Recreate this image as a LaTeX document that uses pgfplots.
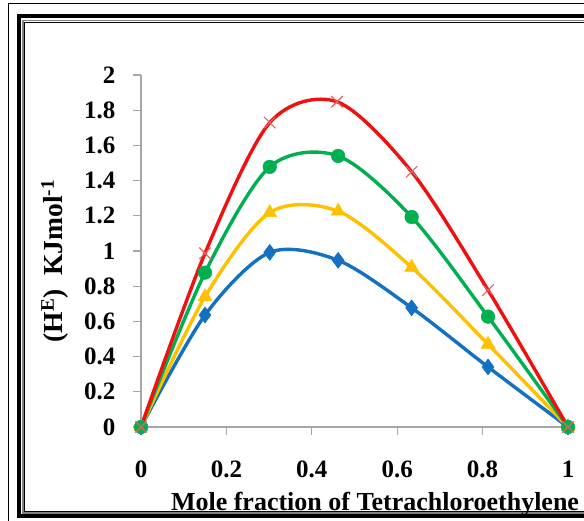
\documentclass[border=0pt]{standalone}
\usepackage{pgfplots}
\pgfplotsset{compat=1.18}
\usepackage{fontspec}
\setmainfont{Liberation Serif}
\definecolor{cblue}{HTML}{1470C0}
\definecolor{cyellow}{HTML}{FFC000}
\definecolor{cgreen}{HTML}{00B050}
\definecolor{cred}{HTML}{F01010}
\definecolor{cxred}{HTML}{E86060}
\definecolor{axgray}{HTML}{A6A6A6}
\begin{document}
\begin{tikzpicture}[x=1pt,y=1pt]
\useasboundingbox (0,0) rectangle (584,521);
\fill[white] (0,0) rectangle (584,521);
% outer frame
\draw[black, line width=1.5pt] (584,517.7) -- (8.5,517.7) -- (8.5,0);
% inner double frame
\draw[black, line width=4pt] (584,505) -- (19,505) -- (19,4.5) -- (584,4.5);
\draw[gray, line width=1.2pt] (584,500.5) -- (23,500.5) -- (23,8) -- (584,8);
\draw[black, line width=0.8pt] (584,498.3) -- (24.8,498.3) -- (24.8,9.5) -- (584,9.5);
\begin{axis}[
  at={(141pt,94pt)}, anchor=south west,
  scale only axis, width=427pt, height=352pt,
  xmin=0, xmax=1, ymin=0, ymax=2,
  axis x line*=bottom, axis y line*=left,
  axis line style={axgray, line width=1.2pt},
  tick align=outside, major tick length=8pt,
  tick style={axgray, line width=1.2pt},
  xtick={0,0.2,0.4,0.6,0.8,1},
  ytick={0,0.2,0.4,0.6,0.8,1,1.2,1.4,1.6,1.8,2},
  xticklabels={0,0.2,0.4,0.6,0.8,1},
  yticklabels={0,0.2,0.4,0.6,0.8,1,1.2,1.4,1.6,1.8,2},
  ticklabel style={font=\bfseries\fontsize{25}{25}\selectfont},
  /pgf/number format/assume math mode=true,
  yticklabel style={anchor=east, xshift=-14pt},
  xticklabel style={anchor=base, yshift=-43pt},
  xlabel={Mole fraction of Tetrachloroethylene},
  xlabel style={font=\bfseries\fontsize{26}{26}\selectfont, at={(axis description cs:0.548,0)}, anchor=base, yshift=-84pt},
  ylabel={(H\textsuperscript{E})\ \ KJmol\textsuperscript{-1}},
  ylabel style={font=\bfseries\fontsize{27.5}{27.5}\selectfont, at={(axis description cs:-0.2014,0.4716)}, anchor=center},
  clip=false,
]
\addplot[cblue, line width=3.4pt, smooth, mark=diamond*, mark size=8pt, mark options={fill=cblue, line width=0.5pt}]
coordinates {(0,0) (0.1499,0.636) (0.3015,0.992) (0.4617,0.947) (0.6339,0.677) (0.8127,0.341) (1,0)};
\addplot[cyellow, line width=3.4pt, smooth, mark=triangle*, mark size=8pt, mark options={fill=cyellow, line width=0.5pt}]
coordinates {(0,0) (0.1499,0.74) (0.3015,1.218) (0.4617,1.226) (0.6339,0.907) (0.8127,0.47) (1,0)};
\addplot[cgreen, line width=3.4pt, smooth, mark=*, mark size=6.8pt, mark options={fill=cgreen, line width=0.5pt}]
coordinates {(0,0) (0.1499,0.877) (0.3015,1.478) (0.4617,1.54) (0.6339,1.193) (0.8127,0.627) (1,0)};
\addplot[cred, line width=3.4pt, smooth, mark=x, mark size=8pt, mark options={cxred, line width=1.1pt}]
coordinates {(0,0) (0.1499,0.987) (0.3015,1.729) (0.4590,1.848) (0.6339,1.45) (0.8127,0.778) (1,0)};
\end{axis}
\end{tikzpicture}
\end{document}
